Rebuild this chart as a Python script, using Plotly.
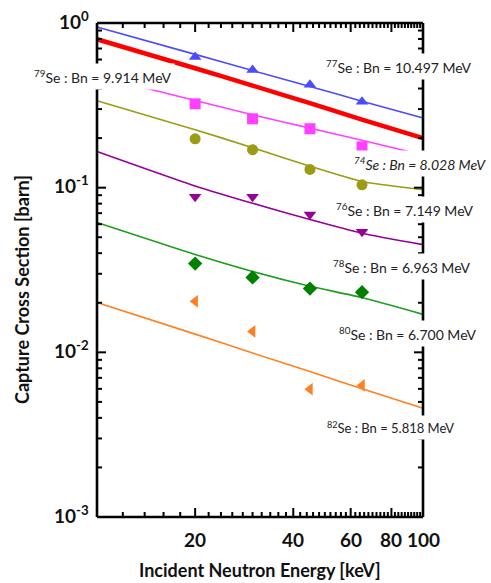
import math
import plotly.graph_objects as go

# ---- data ----
energy_pts = [20, 30, 45, 65]
energy_line = [10, 20, 30, 45, 65, 100]

se77_pts = [0.622, 0.519, 0.421, 0.332]
se77_line = [0.946, 0.645, 0.514, 0.412, 0.335, 0.265]

se79_line = [0.797, 0.531, 0.417, 0.326, 0.259, 0.200]

se74_pts = [0.323, 0.262, 0.228, 0.177]
se74_line = [0.477, 0.338, 0.277, 0.230, 0.194, 0.158]

se76_pts = [0.198, 0.170, 0.129, 0.104]
se76_line = [0.337, 0.225, 0.175, 0.135, 0.109, 0.0973]

se78_pts = [0.088, 0.088, 0.0686, 0.054]
se78_line = [0.166, 0.1025, 0.0804, 0.064, 0.0529, 0.0451]

se80_pts = [0.0346, 0.0285, 0.0244, 0.0232]
se80_line = [0.0614, 0.0393, 0.031, 0.0252, 0.0215, 0.0170]

se82_pts = [0.0204, 0.0134, 0.00597, 0.0063]
se82_line = [0.0201, 0.0129, 0.0099, 0.00766, 0.0060, 0.00458]

x_tickvals = [20, 40, 60, 80, 100]
x_ticktext = ["20", "40", "60", "80", "100"]
x_minor = [v for v in range(12, 100, 2) if v not in (20, 40, 60, 80)]
y_tickvals = [1, 0.1, 0.01, 0.001]
y_ticktext = ["10<sup>0</sup>", "10<sup>-1</sup>", "10<sup>-2</sup>", "10<sup>-3</sup>"]
y_minor = [k * 10.0 ** e for e in (-3, -2, -1) for k in range(2, 10)]

labels = [
    ("<sup>79</sup>Se : Bn = 9.914 MeV", 30, 76, 14),
    ("<sup>77</sup>Se : Bn = 10.497 MeV", 322, 66, 14),
    ("<i><sup>74</sup>Se : Bn = 8.028 MeV</i>", 350, 163, 14),
    ("<sup>76</sup>Se : Bn = 7.149 MeV", 332, 209, 14),
    ("<sup>78</sup>Se : Bn = 6.963 MeV", 329, 266, 14),
    ("<sup>80</sup>Se : Bn = 6.700 MeV", 335, 333, 14),
    ("<sup>82</sup>Se : Bn = 5.818 MeV", 323, 427, 13),
]

series = [
    (se77_line, se77_pts, "#4a4aff", "triangle-up", 1.6),
    (se79_line, None, "#ff0000", None, 4.5),
    (se74_line, se74_pts, "#ff40ff", "square", 1.6),
    (se76_line, se76_pts, "#9c9c14", "circle", 1.6),
    (se78_line, se78_pts, "#960096", "triangle-down", 1.6),
    (se80_line, se80_pts, "#1e9e1e", "diamond", 1.6),
    (se82_line, se82_pts, "#ff8020", "triangle-left", 1.6),
]

W, H = 491, 583
FL, FR, FT, FB = 97, 423, 23, 517          # frame (axis box) in pixels
PAD = 5                                     # plot area extends a little beyond frame
L, R, T, B = FL - PAD, FR + PAD, FT - PAD, FB + PAD
XMIN, XMAX, YMIN, YMAX = 10, 100, 1e-3, 1.0
X_DEC_PER_PX = 1.0 / (FR - FL)      # frame spans one decade in x
Y_DEC_PER_PX = 3.0 / (FB - FT)      # frame spans three decades in y
FONT = "Lato, Open Sans, sans-serif"


def pxx(px):
    return (px - L) / (R - L)


def pxy(py):
    return (B - py) / (B - T)


fig = go.Figure()
for line_y, pts_y, color, sym, lw in series:
    fig.add_trace(go.Scatter(x=energy_line, y=line_y, mode="lines",
                             line=dict(color=color, width=lw, shape="spline", smoothing=0.6),
                             showlegend=False, hoverinfo="skip"))
    if pts_y is not None:
        mcol = "#008000" if sym == "diamond" else color
        fig.add_trace(go.Scatter(x=energy_pts, y=pts_y, mode="markers",
                                 marker=dict(color=mcol, symbol=sym, size=11),
                                 showlegend=False))


# ---- axis frame and ticks (drawn as one segmented line trace) ----
def ytick_segments(major, minor, major_len, minor_len):
    xs, ys = [], []
    for vals, ln in ((major, major_len), (minor, minor_len)):
        for v in vals:
            dx = 10 ** (ln * X_DEC_PER_PX)
            xs += [XMIN, XMIN * dx, None, XMAX, XMAX / dx, None]
            ys += [v, v, None, v, v, None]
    return xs, ys


def xtick_segments(major, minor, major_len, minor_len):
    xs, ys = [], []
    for vals, ln in ((major, major_len), (minor, minor_len)):
        for v in vals:
            dy = 10 ** (ln * Y_DEC_PER_PX)
            xs += [v, v, None, v, v, None]
            ys += [YMIN, YMIN * dy, None, YMAX, YMAX / dy, None]
    return xs, ys


yx, yy = ytick_segments(y_tickvals, y_minor, 9, 5)
xx, xy = xtick_segments(x_tickvals, x_minor, 9, 5)
fig.add_trace(go.Scatter(x=yx + xx, y=yy + xy, mode="lines",
                         line=dict(color="black", width=2), showlegend=False,
                         hoverinfo="skip"))
frame_x = [XMIN, XMIN, None, XMAX, XMAX, None, XMIN, XMAX, None, XMIN, XMAX]
frame_y = [YMIN, YMAX, None, YMIN, YMAX, None, YMIN, YMIN, None, YMAX, YMAX]
fig.add_trace(go.Scatter(x=frame_x, y=frame_y, mode="lines",
                         line=dict(color="black", width=2.6),
                         showlegend=False, hoverinfo="skip"))

# ---- series labels (white boxes interrupt lines and frame) ----
for text, px, py, fs in labels:
    fig.add_annotation(text=text, xref="paper", yref="paper",
                       x=pxx(px), y=pxy(py),
                       xanchor="left", yanchor="middle", showarrow=False,
                       bgcolor="white", borderpad=3,
                       font=dict(family=FONT, size=fs, color="#222"))

# ---- tick labels ----
for v, t in zip(x_tickvals, x_ticktext):
    fig.add_annotation(text="<b>" + t + "</b>", xref="x", x=math.log10(v), yref="paper",
                       y=pxy(FB + 9), xanchor="center", yanchor="top", showarrow=False,
                       font=dict(family=FONT, size=19, color="#111"))
for v, t in zip(y_tickvals, y_ticktext):
    fig.add_annotation(text="<b>" + t + "</b>", xref="paper", x=pxx(FL - 6),
                       yref="y", y=math.log10(v), yshift=3,
                       xanchor="right", yanchor="middle", showarrow=False,
                       font=dict(family=FONT, size=19, color="#111"))

# ---- axis titles ----
fig.add_annotation(text="<b>Capture Cross Section [barn]</b>", xref="paper", yref="paper",
                   x=pxx(22), y=pxy(290), textangle=-90,
                   showarrow=False, xanchor="center", yanchor="middle",
                   font=dict(family=FONT, size=18, color="#111"))
fig.add_annotation(text="<b>Incident Neutron Energy [keV]</b>", xref="paper", yref="paper",
                   x=pxx(260), y=pxy(570),
                   showarrow=False, xanchor="center", yanchor="middle",
                   font=dict(family=FONT, size=18, color="#111"))

axis_common = dict(showline=False, ticks="", showticklabels=False, showgrid=False,
                   zeroline=False)
fig.update_xaxes(type="log", range=[1 - PAD * X_DEC_PER_PX, 2 + PAD * X_DEC_PER_PX],
                 **axis_common)
fig.update_yaxes(type="log", range=[-3 - PAD * Y_DEC_PER_PX, 0 + PAD * Y_DEC_PER_PX],
                 **axis_common)

fig.update_layout(width=W, height=H, margin=dict(l=L, r=W - R, t=T, b=H - B),
                  plot_bgcolor="white", paper_bgcolor="white")

fig.write_html("out.html")
